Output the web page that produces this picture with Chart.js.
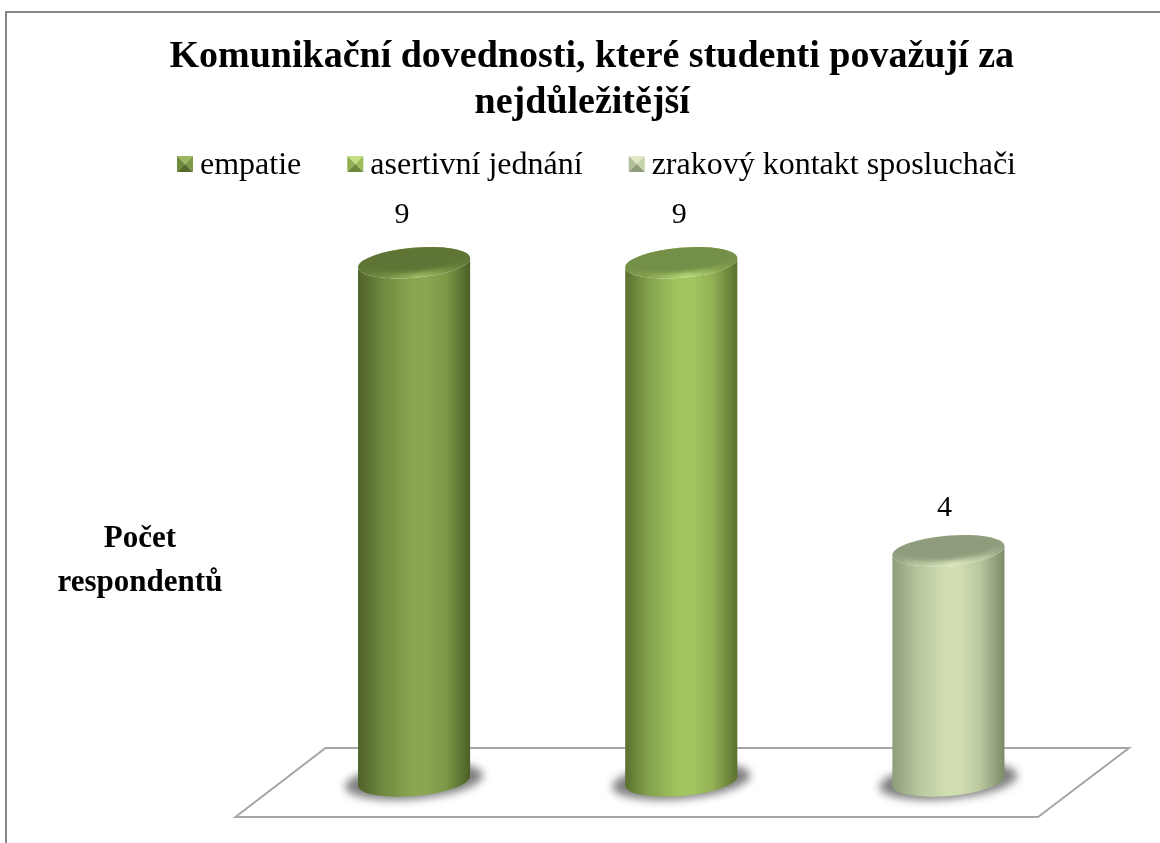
<!DOCTYPE html>
<html><head><meta charset="utf-8">
<style>html,body{margin:0;padding:0;background:#fff;overflow:hidden}canvas{display:block}</style>
<script src="https://cdn.jsdelivr.net/npm/chart.js@4"></script>
</head><body><canvas id="c" width="1160" height="843"></canvas>
<script>
const categories = ["empatie", "asertivní jednání", "zrakový kontakt sposluchači"];
const values = [9, 9, 4];
const titleLines = ["\u00a0Komunikační dovednosti, které studenti považují za", "nejdůležitější\u00a0"];
const axisTitleLines = ["Počet", "respondentů"];
const labelShiftX = [-12, -2, -4];
const labelShiftY = [-48, -48, -43];
const palettes = [
  {edgeL:"#4f6229", mid1:"#6f893e", mid:"#8aa651", mid2:"#7d9947", edgeR:"#4c5e27", top:"#5f7535", rim:"#9dbb62", sw:["#9bb95e","#6f8a3d","#7d9a48","#546a2b"]},
  {edgeL:"#5a7030", mid1:"#86a44e", mid:"#a3c560", mid2:"#93b155", edgeR:"#5a6f30", top:"#748f47", rim:"#b9d97a", sw:["#c3dd85","#8fae52","#9dbd5c","#6c8739"]},
  {edgeL:"#8e9c7c", mid1:"#b6c59c", mid:"#d1deb2", mid2:"#bac8a0", edgeR:"#7d8a68", top:"#8f9d7d", rim:"#dbe8bf", sw:["#e0ebc6","#b2c09a","#c4d2aa","#8e9c7c"]}
];
const SERIF = '"Liberation Serif","Times New Roman",serif';
const TILT = -5 * Math.PI / 180;
const RATIO_B = 15 / 56;

Chart.BarElement.prototype.draw = function (ctx) {
  const i = this.$context ? this.$context.dataIndex : 0;
  const p = palettes[i];
  const hw = this.width / 2, a = hw / Math.cos(TILT), b = hw * RATIO_B;
  const dy = a * Math.sin(TILT);
  const {x, y: top, base} = this;
  ctx.save();
  // shadow on the floor
  ctx.save();
  ctx.filter = "blur(4px)";
  ctx.fillStyle = "#808080";
  ctx.beginPath();
  ctx.ellipse(x, base, a * 1.23, b * 1.2, TILT, 0, Math.PI * 2);
  ctx.fill();
  ctx.restore();
  // cylinder body
  const g = ctx.createLinearGradient(x - hw, 0, x + hw, 0);
  g.addColorStop(0, p.edgeL); g.addColorStop(.22, p.mid1);
  g.addColorStop(.48, p.mid); g.addColorStop(.6, p.mid); g.addColorStop(.78, p.mid2); g.addColorStop(1, p.edgeR);
  ctx.fillStyle = g;
  ctx.beginPath();
  ctx.moveTo(x - hw, top - dy);
  ctx.lineTo(x - hw, base - dy);
  ctx.ellipse(x, base, a, b, TILT, Math.PI, 0, true);
  ctx.lineTo(x + hw, top + dy);
  ctx.ellipse(x, top, a, b, TILT, 0, Math.PI, false);
  ctx.closePath();
  ctx.fill();
  // top cap with lit rim
  const rg = ctx.createLinearGradient(x - hw, 0, x + hw, 0);
  rg.addColorStop(0, p.top); rg.addColorStop(.2, p.mid1); rg.addColorStop(.55, p.rim); rg.addColorStop(.85, p.mid1); rg.addColorStop(1, p.top);
  ctx.fillStyle = rg;
  ctx.beginPath();
  ctx.ellipse(x, top, a, b, TILT, 0, Math.PI * 2);
  ctx.fill();
  ctx.save();
  ctx.beginPath();
  ctx.ellipse(x, top, a, b, TILT, 0, Math.PI * 2);
  ctx.clip();
  ctx.filter = "blur(2px)";
  ctx.fillStyle = p.top;
  ctx.beginPath();
  ctx.ellipse(x, top - 4, a - 1, b - 1, TILT, 0, Math.PI * 2);
  ctx.fill();
  ctx.restore();
  ctx.restore();
};

const decor = {
  id: "decor",
  afterLayout(chart) {
    const t = chart.titleBlock;
    t.left += 3; t.right += 3;
  },
  beforeDraw(chart) {
    const {ctx, width, height} = chart;
    ctx.save();
    ctx.strokeStyle = "#868686"; ctx.lineWidth = 2;
    ctx.beginPath();
    ctx.moveTo(6, height); ctx.lineTo(6, 12); ctx.lineTo(width, 12);
    ctx.stroke();
    ctx.restore();
  },
  beforeDatasetsDraw(chart) {
    const {ctx, chartArea: ar} = chart;
    ctx.save();
    ctx.strokeStyle = "#a6a6a6"; ctx.lineWidth = 2; ctx.lineJoin = "miter";
    ctx.beginPath();
    ctx.moveTo(ar.left - 45, ar.bottom + 36);
    ctx.lineTo(ar.right - 44, ar.bottom + 36);
    ctx.lineTo(ar.right + 47, ar.bottom - 33);
    ctx.lineTo(ar.left + 45, ar.bottom - 33);
    ctx.closePath();
    ctx.stroke();
    ctx.restore();
  },
  afterDraw(chart) {
    const {ctx} = chart;
    const meta = chart.getDatasetMeta(0);
    ctx.save();
    ctx.fillStyle = "#000";
    ctx.textAlign = "center"; ctx.textBaseline = "middle";
    ctx.font = "30px " + SERIF;
    meta.data.forEach((bar, i) => {
      ctx.fillText(String(values[i]), bar.x + labelShiftX[i], bar.y + labelShiftY[i]);
    });
    ctx.font = "bold 31px " + SERIF;
    axisTitleLines.forEach((s, i) => ctx.fillText(s, 140, 539 + i * 44));
    // legend swatches
    chart.legend.legendHitBoxes.forEach((h, i) => {
      const s = 16, x = h.left + 25, y = h.top + h.height / 2 - 10, c = palettes[i].sw;
      const cx = x + s / 2, cy = y + s / 2;
      const tri = (ax, ay, bx, by, col) => {
        ctx.fillStyle = col; ctx.beginPath(); ctx.moveTo(ax, ay); ctx.lineTo(bx, by); ctx.lineTo(cx, cy); ctx.closePath(); ctx.fill();
      };
      tri(x, y, x + s, y, c[0]);
      tri(x, y, x, y + s, c[1]);
      tri(x + s, y, x + s, y + s, c[2]);
      tri(x, y + s, x + s, y + s, c[3]);
    });
    ctx.restore();
  }
};

new Chart(document.getElementById("c"), {
  type: "bar",
  data: {labels: categories, datasets: [{data: values, clip: false, backgroundColor: palettes.map(p => p.mid)}]},
  plugins: [decor],
  options: {
    responsive: false, animation: false, events: [],
    layout: {padding: {left: 86, right: 78, top: 0, bottom: 62}},
    barPercentage: 1, categoryPercentage: 112 / 267,
    scales: {
      x: {display: false},
      y: {min: 0, max: 10.23, ticks: {display: false}, grid: {display: false}, border: {display: false},
          afterFit(s) { s.width = 194.5; }}
    },
    plugins: {
      tooltip: {enabled: false},
      title: {display: true, text: titleLines, color: "#000", padding: {top: 34, bottom: 3},
              font: {family: SERIF, size: 38, weight: "bold", lineHeight: 1.21}},
      legend: {display: true, position: "top",
        labels: {boxWidth: 32, boxHeight: 16, padding: 21, color: "#000", font: {family: SERIF, size: 32},
          generateLabels: () => categories.map((t, i) => ({text: t, fillStyle: "transparent", strokeStyle: "transparent", lineWidth: 0, hidden: false, index: i, fontColor: "#000"}))}}
    }
  }
});
</script></body></html>
